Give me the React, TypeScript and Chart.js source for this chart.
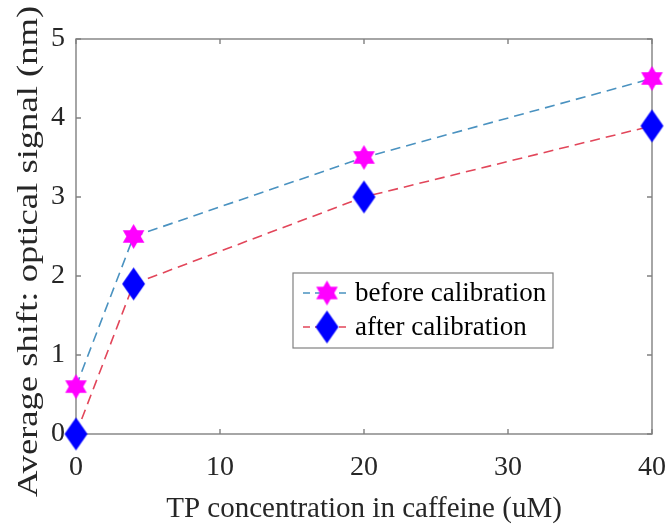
import { useEffect, useRef } from "react";
import { Chart, registerables } from "chart.js";

Chart.register(...registerables);

// TP concentration (uM) and the average optical-signal shift (nm)
const concentrations = [0, 4, 20, 40];
const beforeCalibration = [0.6, 2.5, 3.5, 4.5];
const afterCalibration = [0, 1.9, 3.0, 3.9];
const seriesLabels = ["before calibration", "after calibration"];
const xTickValues = [0, 10, 20, 30, 40];
const yTickValues = [0, 1, 2, 3, 4, 5];
const xTitle = "TP concentration in caffeine (uM)";
const yTitle = "Average shift: optical signal (nm)";

const FONT = "'Liberation Serif', 'Times New Roman', serif";
const TEXT = "#262626";
const AXIS = "#808080";
const BLUE_LINE = "#4a92c0";
const RED_LINE = "#e2465a";

function makeHexagram(r: number, color: string): HTMLCanvasElement {
  const c = document.createElement("canvas");
  const s = Math.ceil(2 * r + 2);
  c.width = s;
  c.height = s;
  const g = c.getContext("2d")!;
  const cx = s / 2;
  const cy = s / 2;
  g.fillStyle = color;
  for (const start of [-Math.PI / 2, Math.PI / 2]) {
    g.beginPath();
    for (let i = 0; i < 3; i++) {
      const a = start + (i * 2 * Math.PI) / 3;
      const x = cx + r * Math.cos(a);
      const y = cy + r * Math.sin(a);
      if (i === 0) g.moveTo(x, y);
      else g.lineTo(x, y);
    }
    g.closePath();
    g.fill();
  }
  return c;
}

function makeDiamond(w: number, h: number, color: string): HTMLCanvasElement {
  const c = document.createElement("canvas");
  c.width = Math.ceil(w + 2);
  c.height = Math.ceil(h + 2);
  const g = c.getContext("2d")!;
  const cx = c.width / 2;
  const cy = c.height / 2;
  g.fillStyle = color;
  g.beginPath();
  g.moveTo(cx, cy - h / 2);
  g.lineTo(cx + w / 2, cy);
  g.lineTo(cx, cy + h / 2);
  g.lineTo(cx - w / 2, cy);
  g.closePath();
  g.fill();
  return c;
}

export default function App() {
  const canvasRef = useRef<HTMLCanvasElement | null>(null);

  useEffect(() => {
    document.body.style.margin = "0";
    const canvas = canvasRef.current;
    if (!canvas) return;

    const star = makeHexagram(12.5, "#ff00ff");
    const diamond = makeDiamond(23, 33, "#0000ff");

    // Box around the plot area with inward ticks on all four sides
    const boxPlugin = {
      id: "matlabBox",
      beforeDatasetsDraw(chart: any) {
        const { ctx, chartArea: a, scales } = chart;
        const xs = scales.x;
        const ys = scales.y;
        const tl = 5;
        ctx.save();
        ctx.strokeStyle = AXIS;
        ctx.lineWidth = 1.4;
        ctx.strokeRect(a.left, a.top, a.right - a.left, a.bottom - a.top);
        ctx.beginPath();
        for (const v of xTickValues) {
          const px = xs.getPixelForValue(v);
          ctx.moveTo(px, a.bottom);
          ctx.lineTo(px, a.bottom - tl);
          ctx.moveTo(px, a.top);
          ctx.lineTo(px, a.top + tl);
        }
        for (const v of yTickValues) {
          const py = ys.getPixelForValue(v);
          ctx.moveTo(a.left, py);
          ctx.lineTo(a.left + tl, py);
          ctx.moveTo(a.right, py);
          ctx.lineTo(a.right - tl, py);
        }
        ctx.stroke();
        ctx.restore();
      },
    };

    // Vertical axis title, drawn slightly elongated along its length
    const yTitlePlugin = {
      id: "yTitle",
      afterDraw(chart: any) {
        const { ctx, chartArea: a } = chart;
        ctx.save();
        ctx.translate(29, (a.top + a.bottom) / 2 + 15);
        ctx.rotate(-Math.PI / 2);
        ctx.scale(1.22, 1);
        ctx.font = `30px ${FONT}`;
        ctx.fillStyle = TEXT;
        ctx.textAlign = "center";
        ctx.textBaseline = "middle";
        ctx.fillText(yTitle, 0, 0);
        ctx.restore();
      },
    };

    // Boxed legend inside the plot area
    const legendPlugin = {
      id: "boxLegend",
      afterDraw(chart: any) {
        const { ctx, chartArea: a } = chart;
        const left = a.left + 217;
        const top = a.top + 234;
        const w = 260;
        const h = 75;
        ctx.save();
        ctx.fillStyle = "#ffffff";
        ctx.fillRect(left, top, w, h);
        ctx.strokeStyle = AXIS;
        ctx.lineWidth = 1.2;
        ctx.strokeRect(left, top, w, h);
        const entries = [
          { label: seriesLabels[0], color: BLUE_LINE, img: star },
          { label: seriesLabels[1], color: RED_LINE, img: diamond },
        ];
        entries.forEach((e, i) => {
          const cy = top + 20 + i * 34;
          ctx.strokeStyle = e.color;
          ctx.lineWidth = 1.6;
          ctx.setLineDash([7, 5]);
          ctx.beginPath();
          ctx.moveTo(left + 10, cy);
          ctx.lineTo(left + 58, cy);
          ctx.stroke();
          ctx.setLineDash([]);
          const mx = left + 34;
          ctx.drawImage(e.img, mx - e.img.width / 2, cy - e.img.height / 2);
          ctx.fillStyle = "#000000";
          ctx.font = `27px ${FONT}`;
          ctx.textBaseline = "middle";
          ctx.textAlign = "left";
          ctx.fillText(e.label, left + 62, cy + 1);
        });
        ctx.restore();
      },
    };

    const chart = new Chart(canvas, {
      type: "line",
      data: {
        datasets: [
          {
            label: seriesLabels[0],
            data: concentrations.map((x, i) => ({ x, y: beforeCalibration[i] })),
            borderColor: BLUE_LINE,
            borderWidth: 1.6,
            borderDash: [10, 6],
            pointStyle: star as any,
            pointRadius: 12,
            clip: false as any,
          },
          {
            label: seriesLabels[1],
            data: concentrations.map((x, i) => ({ x, y: afterCalibration[i] })),
            borderColor: RED_LINE,
            borderWidth: 1.6,
            borderDash: [10, 6],
            pointStyle: diamond as any,
            pointRadius: 12,
            clip: false as any,
          },
        ],
      },
      options: {
        responsive: false,
        animation: false,
        layout: { padding: { top: 39, right: 16, left: 0, bottom: 0 } },
        plugins: {
          legend: { display: false },
          tooltip: { enabled: false },
        },
        scales: {
          x: {
            type: "linear",
            min: 0,
            max: 40,
            afterBuildTicks: (s: any) => {
              s.ticks = xTickValues.map((v) => ({ value: v }));
            },
            afterFit: (s: any) => {
              s.height = 93;
              s.paddingLeft = 0;
              s.paddingRight = 0;
            },
            grid: { display: false, drawTicks: false },
            border: { display: false },
            ticks: {
              font: { family: FONT, size: 28 },
              color: TEXT,
              padding: 17,
              maxRotation: 0,
            },
            title: {
              display: true,
              text: xTitle,
              font: { family: FONT, size: 29, lineHeight: 1.2 },
              color: TEXT,
              padding: { top: 0, bottom: 0 },
            },
          },
          y: {
            type: "linear",
            min: 0,
            max: 5,
            afterBuildTicks: (s: any) => {
              s.ticks = yTickValues.map((v) => ({ value: v }));
            },
            afterFit: (s: any) => {
              s.width = 76;
              s.paddingTop = 0;
              s.paddingBottom = 0;
            },
            grid: { display: false, drawTicks: false },
            border: { display: false },
            ticks: {
              font: { family: FONT, size: 28 },
              color: TEXT,
              padding: 11,
            },
          },
        },
      },
      plugins: [boxPlugin, yTitlePlugin, legendPlugin],
    });

    return () => chart.destroy();
  }, []);

  return (
    <canvas
      ref={canvasRef}
      width={668}
      height={527}
      style={{ display: "block", width: 668, height: 527 }}
    />
  );
}
